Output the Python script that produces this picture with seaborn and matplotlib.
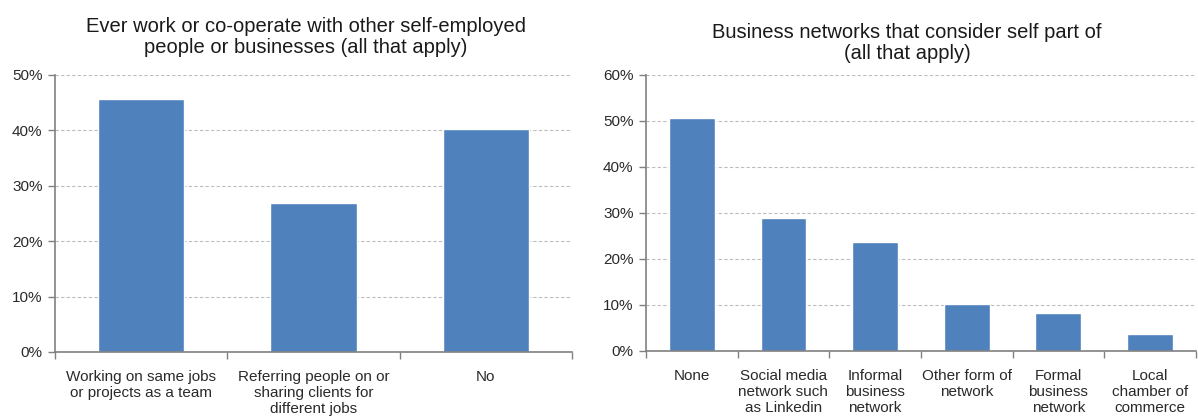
import matplotlib
matplotlib.use("Agg")
import matplotlib.pyplot as plt
import numpy as np
import pandas as pd
import seaborn as sns
from matplotlib.ticker import PercentFormatter, FixedLocator

# Survey results (share of respondents, %)
cowork_labels = [
    "Working on same jobs\nor projects as a team",
    "Referring people on or\nsharing clients for\ndifferent jobs",
    "No",
]
cowork_values = [45.6, 26.9, 40.3]

network_labels = [
    "None",
    "Social media\nnetwork such\nas Linkedin",
    "Informal\nbusiness\nnetwork",
    "Other form of\nnetwork",
    "Formal\nbusiness\nnetwork",
    "Local\nchamber of\ncommerce",
]
network_values = [50.7, 29.0, 23.6, 10.3, 8.3, 3.6]

BAR = "#4F81BD"
TEXT = "#2a2a2a"
AXIS = "#808080"

sns.set_theme(style="white")
plt.rcParams["font.family"] = ["Liberation Sans", "DejaVu Sans"]

fig = plt.figure(figsize=(11.98, 4.18), dpi=100)
ax1 = fig.add_axes([0.0459, 0.1579, 0.4316, 0.6627])
ax2 = fig.add_axes([0.5392, 0.1603, 0.4590, 0.6603])


def draw_panel(ax, labels, values, ymax, title, title_x, title_y):
    df = pd.DataFrame({"cat": labels, "val": values})
    sns.barplot(data=df, x="cat", y="val", color=BAR, width=0.5,
                saturation=1, ax=ax)
    n = len(labels)
    ax.set_xlim(-0.5, n - 0.5)
    ax.set_ylim(0, ymax)
    ax.set_yticks(np.arange(0, ymax + 1, 10))
    ax.yaxis.set_major_formatter(PercentFormatter(decimals=0))
    ax.set_xlabel("")
    ax.set_ylabel("")
    ax.grid(axis="y", color="#bdbdbd", linestyle=(0, (3, 2)), linewidth=0.8)
    ax.set_axisbelow(True)
    for s in ("top", "right"):
        ax.spines[s].set_visible(False)
    for s in ("left", "bottom"):
        ax.spines[s].set_color(AXIS)
        ax.spines[s].set_linewidth(1.2)
    ax.tick_params(axis="y", which="major", length=5, color=AXIS, width=1.0,
                   labelsize=11, labelcolor=TEXT, pad=4, direction="out",
                   left=True)
    ax.tick_params(axis="x", which="major", length=0, labelsize=11,
                   labelcolor=TEXT, pad=13)
    ax.xaxis.set_minor_locator(FixedLocator(np.arange(-0.5, n, 1.0)))
    ax.tick_params(axis="x", which="minor", length=5, color=AXIS, width=1.0,
                   direction="out", bottom=True)
    for t in ax.get_xticklabels():
        t.set_linespacing(1.2)
        t.set_verticalalignment("top")
    fig.text(title_x, title_y, title, ha="center", va="top", fontsize=14.5,
             color="#1a1a1a", linespacing=1.15)


draw_panel(ax1, cowork_labels, cowork_values, 50,
           "Ever work or co-operate with other self-employed\npeople or businesses (all that apply)",
           0.2554, 0.960)
draw_panel(ax2, network_labels, network_values, 60,
           "Business networks that consider self part of\n(all that apply)",
           0.757, 0.946)

fig.savefig("out.png", dpi=100)
